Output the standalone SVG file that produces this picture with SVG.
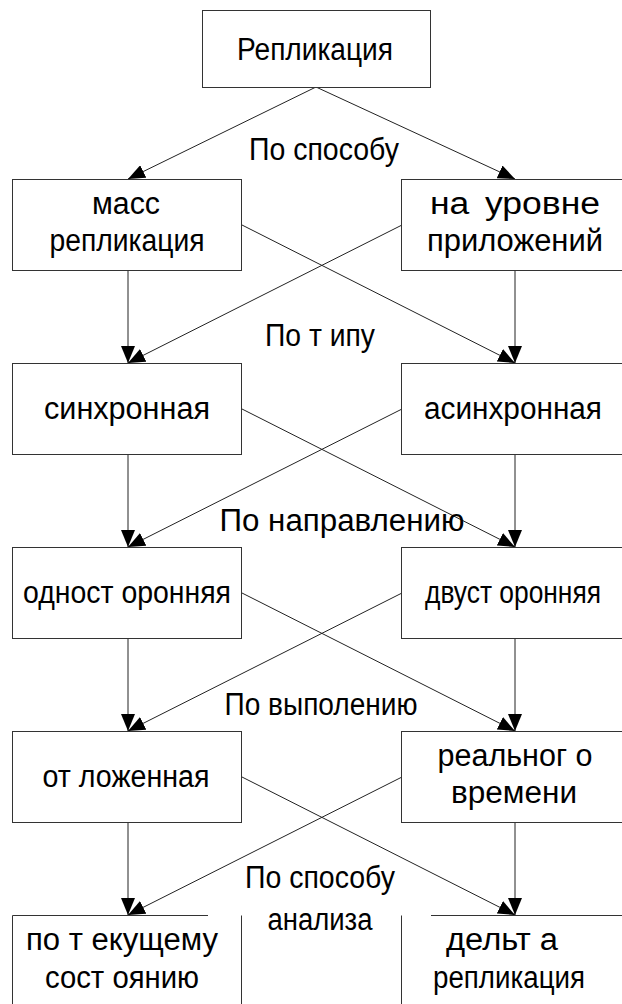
<svg xmlns="http://www.w3.org/2000/svg" width="622" height="1004" viewBox="0 0 622 1004">
  <style>
    .box { fill: #fff; stroke: #333; stroke-width: 1; }
    .edge { fill: none; stroke: #333; stroke-width: 1; }
    .link { fill: none; stroke: #222; stroke-width: 1; marker-end: url(#head); }
    text { font-family: "Liberation Sans", Arial, sans-serif; font-size: 31px; fill: #000; text-anchor: middle; }
    .ws { word-spacing: 5px; }
  </style>
  <defs>
    <marker id="head" markerUnits="userSpaceOnUse" markerWidth="17" markerHeight="14" refX="17" refY="7" orient="auto">
      <path d="M0,0 L17,7 L0,14 z" fill="#000"/>
    </marker>
  </defs>
  <rect width="622" height="1004" fill="#fff"/>

  <!-- connectors -->
  <g id="connectors">
    <line class="link" x1="316" y1="87" x2="128" y2="179"/>
    <line class="link" x1="316" y1="87" x2="515" y2="179"/>

    <line class="link" x1="128" y1="271" x2="128" y2="363"/>
    <line class="link" x1="515" y1="271" x2="515" y2="363"/>
    <line class="link" x1="242" y1="225" x2="515" y2="363"/>
    <line class="link" x1="402" y1="225" x2="128" y2="363"/>

    <line class="link" x1="128" y1="455" x2="128" y2="547"/>
    <line class="link" x1="515" y1="455" x2="515" y2="547"/>
    <line class="link" x1="242" y1="409" x2="515" y2="547"/>
    <line class="link" x1="402" y1="409" x2="128" y2="547"/>

    <line class="link" x1="128" y1="639" x2="128" y2="731"/>
    <line class="link" x1="515" y1="639" x2="515" y2="731"/>
    <line class="link" x1="242" y1="593" x2="515" y2="731"/>
    <line class="link" x1="402" y1="593" x2="128" y2="731"/>

    <line class="link" x1="128" y1="823" x2="128" y2="915"/>
    <line class="link" x1="515" y1="823" x2="515" y2="915"/>
    <line class="link" x1="242" y1="777" x2="515" y2="915"/>
    <line class="link" x1="402" y1="777" x2="128" y2="915"/>
  </g>

  <!-- criteria labels -->
  <g id="labels">
    <text x="324" y="160" textLength="150" lengthAdjust="spacingAndGlyphs">По способу</text>
    <text x="320" y="346" textLength="110" lengthAdjust="spacingAndGlyphs">По т ипу</text>
    <text x="342" y="531" textLength="245" lengthAdjust="spacingAndGlyphs">По направлению</text>
    <text x="321" y="715" textLength="193" lengthAdjust="spacingAndGlyphs">По выполению</text>
    <text x="320" y="888" textLength="150" lengthAdjust="spacingAndGlyphs">По способу</text>
    <text x="320" y="930" textLength="105" lengthAdjust="spacingAndGlyphs">анализа</text>
  </g>

  <g id="n-root">
    <rect class="box" x="202.5" y="10.5" width="228" height="77"/>
    <text x="315" y="60" textLength="156" lengthAdjust="spacingAndGlyphs">Репликация</text>
  </g>

  <g id="n-mass">
    <rect class="box" x="12.5" y="179.5" width="229" height="91"/>
    <text x="126" y="214" textLength="68" lengthAdjust="spacingAndGlyphs">масс</text>
    <text x="127" y="251" textLength="155" lengthAdjust="spacingAndGlyphs">репликация</text>
  </g>
  <g id="n-app">
    <rect class="box" x="401.5" y="179.5" width="230" height="91"/>
    <text class="ws" x="515" y="214" textLength="170" lengthAdjust="spacingAndGlyphs">на уровне</text>
    <text x="515" y="251" textLength="176" lengthAdjust="spacingAndGlyphs">приложений</text>
  </g>

  <g id="n-sync">
    <rect class="box" x="12.5" y="363.5" width="229" height="91"/>
    <text x="127" y="419" textLength="166" lengthAdjust="spacingAndGlyphs">синхронная</text>
  </g>
  <g id="n-async">
    <rect class="box" x="401.5" y="363.5" width="230" height="91"/>
    <text x="513" y="419" textLength="178" lengthAdjust="spacingAndGlyphs">асинхронная</text>
  </g>

  <g id="n-oneway">
    <rect class="box" x="12.5" y="547.5" width="229" height="91"/>
    <text x="127" y="603" textLength="208" lengthAdjust="spacingAndGlyphs">одност оронняя</text>
  </g>
  <g id="n-twoway">
    <rect class="box" x="401.5" y="547.5" width="230" height="91"/>
    <text x="513" y="603" textLength="176" lengthAdjust="spacingAndGlyphs">двуст оронняя</text>
  </g>

  <g id="n-deferred">
    <rect class="box" x="12.5" y="731.5" width="229" height="91"/>
    <text x="126" y="787" textLength="167" lengthAdjust="spacingAndGlyphs">от ложенная</text>
  </g>
  <g id="n-realtime">
    <rect class="box" x="401.5" y="731.5" width="230" height="91"/>
    <text x="515" y="766" textLength="155" lengthAdjust="spacingAndGlyphs">реальног о</text>
    <text x="514" y="803" textLength="126" lengthAdjust="spacingAndGlyphs">времени</text>
  </g>

  <g id="n-state">
    <path class="edge" d="M208,915.5 H12.5 V1010 M241.5,915.5 V1010"/>
    <text x="122" y="950" textLength="192" lengthAdjust="spacingAndGlyphs">по т екущему</text>
    <text x="122" y="988" textLength="154" lengthAdjust="spacingAndGlyphs">сост оянию</text>
  </g>
  <g id="n-delta">
    <path class="edge" d="M401.5,915.5 V1010 M431,915.5 H640"/>
    <text x="502" y="950" textLength="112" lengthAdjust="spacingAndGlyphs">дельт а</text>
    <text x="509" y="988" textLength="152" lengthAdjust="spacingAndGlyphs">репликация</text>
  </g>
</svg>
